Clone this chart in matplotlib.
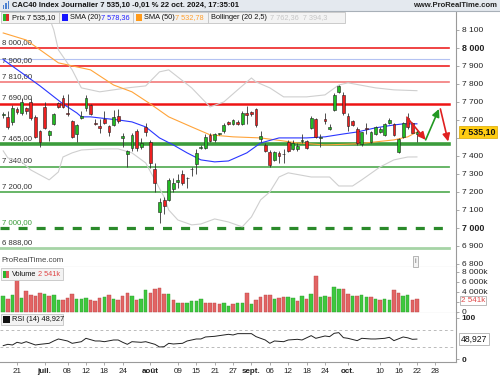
import matplotlib
matplotlib.use('Agg')
import matplotlib.pyplot as plt
import numpy as np
import pandas as pd
from matplotlib.patches import Rectangle
from matplotlib.lines import Line2D

plt.rcParams['font.family'] = ['Liberation Sans', 'DejaVu Sans']
plt.rcParams['lines.scale_dashes'] = False

# ---------------- data ----------------
dates = pd.bdate_range('2024-06-18', '2024-10-22')

opens = [7625, 7617, 7589, 7661, 7639, 7667, 7700, 7617, 7539, 7672,
         7517, 7578, 7694, 7722, 7639, 7594, 7522, 7611, 7667, 7683,
         7583, 7567, 7605, 7567, 7572, 7622, 7500, 7411, 7444, 7539,
         7450, 7561, 7478, 7328, 7089, 7156, 7156, 7217, 7256, 7300,
         7280, 7330, 7356, 7444, 7444, 7517, 7489, 7522, 7539, 7589,
         7578, 7589, 7578, 7639, 7644, 7661, 7494, 7461, 7422, 7378,
         7417, 7411, 7478, 7439, 7439, 7483, 7483, 7556, 7606, 7500,
         7606, 7550, 7656, 7756, 7739, 7622, 7594, 7550, 7467, 7556,
         7478, 7522, 7533, 7517, 7583, 7578, 7422, 7506, 7611, 7583,
         7520]
highs = [7645, 7650, 7683, 7672, 7722, 7672, 7722, 7628, 7545, 7700,
         7545, 7640, 7700, 7740, 7744, 7600, 7578, 7650, 7739, 7690,
         7605, 7605, 7650, 7570, 7656, 7660, 7528, 7435, 7528, 7550,
         7500, 7583, 7490, 7361, 7167, 7170, 7275, 7280, 7300, 7320,
         7283, 7339, 7440, 7460, 7520, 7528, 7528, 7530, 7583, 7595,
         7605, 7600, 7650, 7680, 7650, 7665, 7540, 7470, 7433, 7430,
         7425, 7440, 7490, 7490, 7470, 7520, 7490, 7620, 7610, 7520,
         7640, 7580, 7750, 7795, 7756, 7640, 7600, 7560, 7533, 7585,
         7540, 7565, 7560, 7583, 7610, 7583, 7500, 7590, 7640, 7590,
         7545]
lows = [7610, 7550, 7572, 7633, 7628, 7633, 7600, 7500, 7450, 7550,
        7483, 7570, 7665, 7665, 7622, 7500, 7478, 7605, 7650, 7628,
        7570, 7530, 7578, 7510, 7565, 7583, 7450, 7339, 7430, 7428,
        7440, 7511, 7333, 7200, 7028, 7080, 7150, 7200, 7222, 7240,
        7222, 7289, 7300, 7440, 7440, 7478, 7480, 7515, 7530, 7570,
        7572, 7570, 7572, 7578, 7620, 7560, 7480, 7420, 7339, 7370,
        7360, 7360, 7420, 7435, 7430, 7470, 7440, 7550, 7500, 7450,
        7580, 7545, 7650, 7750, 7630, 7540, 7565, 7460, 7455, 7520,
        7470, 7515, 7525, 7510, 7578, 7510, 7415, 7500, 7550, 7525,
        7480]
closes = [7633, 7561, 7667, 7644, 7700, 7650, 7611, 7506, 7478, 7556,
          7539, 7633, 7672, 7672, 7633, 7506, 7572, 7622, 7722, 7633,
          7578, 7556, 7583, 7533, 7617, 7594, 7511, 7428, 7517, 7444,
          7472, 7533, 7361, 7250, 7144, 7122, 7267, 7250, 7267, 7250,
          7275, 7325, 7417, 7450, 7506, 7483, 7522, 7525, 7572, 7578,
          7600, 7578, 7639, 7628, 7633, 7572, 7511, 7428, 7350, 7422,
          7400, 7408, 7428, 7472, 7456, 7486, 7444, 7611, 7506, 7503,
          7594, 7561, 7739, 7789, 7639, 7567, 7572, 7472, 7533, 7550,
          7533, 7561, 7550, 7578, 7600, 7517, 7494, 7583, 7561, 7528,
          7535.10]

# volume in millions, direction G/R
volumes = [3.3, 2.7, 3.4, 6.6, 2.9, 4.2, 3.5, 3.2, 3.9, 3.7,
           3.2, 3.4, 2.4, 2.4, 2.9, 3.6, 2.6, 2.7, 2.8, 2.4,
           2.2, 2.8, 3.1, 3.5, 2.6, 2.5, 3.2, 3.9, 3.3, 2.4,
           2.6, 4.4, 3.9, 4.6, 4.9, 3.6, 3.6, 2.4, 1.9, 1.9,
           1.9, 2.2, 2.3, 2.6, 1.9, 1.9, 1.9, 1.6, 1.9, 1.2,
           1.7, 1.9, 1.9, 3.9, 1.6, 2.4, 3.0, 3.4, 3.4, 2.6,
           2.9, 3.0, 3.0, 2.8, 2.2, 3.2, 2.7, 3.6, 7.3, 3.0,
           3.3, 3.0, 5.0, 4.7, 4.7, 3.7, 3.2, 3.2, 3.5, 3.0,
           3.0, 2.6, 2.4, 2.6, 2.4, 4.5, 3.9, 3.3, 3.4, 2.4,
           2.541]
vol_dir = ("GRGRGRRRRGRGGRRRGGGRRRGRGRRRGRGGRRRRGRGRGGGGRRRRGGRGGR"
           "GRRRRGRRGGRGRGRGGRGGRRGRGGRGRGGRRGGRR")

sma20_idx = [0, 4, 8, 13, 16, 17, 19, 21, 25, 28, 31, 34, 37, 40, 43, 46, 49,
             53, 56, 60, 66, 70, 74, 77, 81, 85, 87, 90]
sma20_val = [7935, 7862, 7789, 7689, 7639, 7617, 7617, 7611, 7600, 7589, 7561,
             7500, 7461, 7417, 7378, 7367, 7372, 7417, 7472, 7500, 7500, 7506,
             7522, 7533, 7556, 7572, 7578, 7578.36]

sma50_idx = [0, 5, 12, 19, 24, 28, 32, 36, 41, 45, 50, 56, 61, 64, 70, 77, 81,
             85, 88, 90]
sma50_val = [8083, 8044, 7917, 7878, 7794, 7756, 7689, 7617, 7561, 7517, 7506,
             7500, 7483, 7472, 7461, 7467, 7478, 7489, 7506, 7532.78]

bb_up_idx = [9, 11, 12, 15, 17, 21, 27, 31, 34, 36, 41, 45, 48, 51, 54, 55,
             58, 61, 66, 70, 73, 75, 81, 85, 90]
bb_up_val = [8240, 8100, 7989, 7878, 7778, 7756, 7778, 7789, 7867, 7878, 7778,
             7672, 7700, 7767, 7833, 7811, 7778, 7728, 7728, 7739, 7794, 7806,
             7778, 7767, 7762.36]
bb_lo_idx = [0, 1, 4, 6, 10, 12, 13, 15, 17, 21, 25, 28, 31, 33, 35, 36, 38,
             41, 43, 46, 49, 52, 54, 56, 58, 60, 62, 67, 71, 73, 76, 78, 82,
             85, 88, 90]
bb_lo_val = [7428, 7389, 7367, 7322, 7267, 7311, 7394, 7417, 7433, 7439, 7439,
             7417, 7361, 7267, 7172, 7100, 7044, 7017, 7022, 7050, 7033, 7006,
             7061, 7156, 7200, 7283, 7306, 7283, 7283, 7233, 7233, 7267, 7339,
             7378, 7394, 7394.35]

rsi_idx = [0, 1, 2, 3, 4, 5, 6, 7, 8, 10, 11, 12, 14, 15, 17, 18, 20, 21, 22,
           24, 25, 26, 27, 28, 30, 31, 33, 34, 35, 36, 37, 39, 40, 42, 43, 44,
           46, 47, 49, 50, 51, 53, 54, 55, 57, 58, 59, 61, 62, 64, 65, 67, 68,
           70, 71, 72, 73, 74, 75, 77, 78, 80, 81, 83, 84, 85, 87, 88, 89, 90]
rsi_val = [33.2, 36.4, 34.8, 41.2, 38.8, 42.7, 38.8, 34.8, 36.4, 38.8,
           44.4, 49.2, 44.4, 38.8, 42.7, 50.8, 44.4, 44.4, 42.7, 46.8,
           46.8, 41.2, 36.4, 42.7, 41.2, 42.7, 36.4, 30.0, 30.8, 38.8,
           37.2, 38.8, 44.4, 49.2, 49.2, 54.0, 55.6, 57.2, 60.4, 58.8,
           62.0, 62.0, 62.0, 54.8, 46.8, 38.8, 44.4, 42.7, 46.8, 48.4,
           46.8, 57.2, 50.8, 56.4, 54.8, 62.8, 64.4, 52.4, 50.8, 45.2,
           50.8, 49.2, 49.2, 50.8, 53.2, 45.2, 54.0, 52.0, 48.4, 48.927]

level_vals = [8000, 7937, 7900, 7810, 7690, 7465, 7340, 7200, 7000, 6888]
level_labels = ['8 000,00', '', '7 900,00', '7 810,00', '7 690,00', '7 465,00',
                '7 340,00', '7 200,00', '7 000,00', '6 888,00']

# hand-drawn scenario arrows (index, price)
arrow1 = [(87.8, 7615), (91.9, 7489)]
arrow2 = [(91.9, 7489), (94.8, 7661)]
arrow3 = [(95.1, 7661), (96.8, 7480)]

tick_idx = [3, 9, 14, 18, 22, 26, 32, 38, 42, 46, 50, 54, 58, 62, 66, 70, 75,
            82, 86, 90, 94]
tick_lab = ['21', 'juil.', '08', '12', '18', '24', 'août', '09', '15', '21',
            '27', 'sept.', '06', '12', '18', '24', 'oct.', '10', '16', '22', '28']
months = {'juil.', 'août', 'sept.', 'oct.'}

# ---------------- layout ----------------
W, H = 500, 375
def fx(x): return x / W
def fy(y): return 1 - y / H

fig = plt.figure(figsize=(5, 3.75), dpi=100)
fig.patch.set_facecolor('white')
AXR = 456
ax_p = fig.add_axes([0, fy(267), fx(AXR), (267 - 11) / H])
ax_v = fig.add_axes([0, fy(313), fx(AXR), (313 - 267) / H], sharex=ax_p)
ax_r = fig.add_axes([0, fy(362), fx(AXR), (362 - 313) / H], sharex=ax_p)

n = len(closes)
x = np.arange(n)
o = np.array(opens, float); c = np.array(closes, float)
h = np.array(highs, float); l = np.array(lows, float)

for ax in (ax_p, ax_v, ax_r):
    ax.set_facecolor('white')
    ax.spines['left'].set_visible(False)
    ax.spines['top'].set_visible(False)
    ax.spines['right'].set_color('#9a9a9a')
    ax.spines['right'].set_linewidth(0.8)
    ax.spines['bottom'].set_color('#b0b0b0')
    ax.spines['bottom'].set_linewidth(0.8)
    ax.yaxis.tick_right()
    ax.tick_params(axis='y', which='both', direction='out', length=2.5,
                   width=0.5, color='#888888', labelsize=6, pad=1.5,
                   labelcolor='#222222')
ax_p.set_xlim(-0.7, 98.5)

# ---- price panel ----
ax_p.set_ylim(6783, 8205)
lv_style = {
    8000: dict(color='#ee2424', lw=1.2),
    7937: dict(color='#b4c2f2', lw=0.8),
    7900: dict(color='#ee2424', lw=1.2),
    7810: dict(color='#f27a7a', lw=1.2),
    7690: dict(color='#ee1414', lw=1.8),
    7465: dict(color='#3c9c3c', lw=2.6),
    7340: dict(color='#5cb05c', lw=1.3),
    7200: dict(color='#5cb05c', lw=1.3),
    7000: dict(color='#2a8a2a', lw=2.3, dashes=(6.5, 6.5)),
    6888: dict(color='#a6d4a6', lw=2.0),
}
for v, lab in zip(level_vals, level_labels):
    st = lv_style[v]
    ln = Line2D([0, 0.985], [v, v], transform=ax_p.get_yaxis_transform(),
                color=st['color'], lw=st['lw'], zorder=2)
    if 'dashes' in st:
        ln.set_dashes(st['dashes'])
    ax_p.add_line(ln)
    if lab:
        ax_p.annotate(lab, (0, v), xycoords=('axes fraction', 'data'),
                      xytext=(1.5, 1.6), textcoords='offset points',
                      fontsize=5.6, va='bottom', ha='left',
                      color=('#3c9c3c' if v == 7000 else '#333333'), zorder=3)

ax_p.plot(bb_up_idx, bb_up_val, color='#cfcfcf', lw=0.8, zorder=3)
ax_p.plot(bb_lo_idx, bb_lo_val, color='#cfcfcf', lw=0.8, zorder=3)
ax_p.plot(sma50_idx, sma50_val, color='#ffa43a', lw=0.8, zorder=3)
ax_p.plot(sma20_idx, sma20_val, color='#2a36ff', lw=0.8, zorder=3)

up = c >= o
ax_p.vlines(x, l, h, color='#333333', lw=0.6, zorder=4)
ax_p.bar(x, np.maximum(np.abs(c - o), 3), 0.62, bottom=np.minimum(o, c),
         color=np.where(up, '#22bb22', '#ee2020'), edgecolor='#222222',
         lw=0.4, zorder=5)

for (a, b), col in ((arrow1, '#e02020'), (arrow2, '#229922'), (arrow3, '#e02020')):
    ax_p.annotate('', xy=b, xytext=a, zorder=6,
                  arrowprops=dict(arrowstyle='-|>,head_length=0.45,head_width=0.22',
                                  color=col, lw=1.2, shrinkA=0, shrinkB=0))

pt = list(range(6800, 8101, 100))
ax_p.set_yticks(pt)
ax_p.set_yticklabels([f'{v // 1000} {v % 1000:03d}' for v in pt])
for t, v in zip(ax_p.get_yticklabels(), pt):
    if v in (8000, 7000):
        t.set_fontweight('bold')
        t.set_fontsize(6.4)
    if v == 7500:
        t.set_visible(False)
ax_p.tick_params(axis='x', bottom=False, labelbottom=False)
ax_p.annotate(f'{closes[-1]:,.2f}'.replace(',', ' ').replace('.', ','),
              (1, closes[-1]), xycoords=('axes fraction', 'data'),
              xytext=(3.5, 0), textcoords='offset points', va='center',
              ha='left', fontsize=6.4, fontweight='bold', color='#111111',
              annotation_clip=False, zorder=10,
              bbox=dict(boxstyle='square,pad=0.18', fc='#ffcc11', ec='#d9a800',
                        lw=0.5))

# ---- volume panel ----
ax_v.set_ylim(-0.2, 9.0)
vcol = ['#3ec83e' if d == 'G' else '#e26464' for d in vol_dir]
vedge = ['#2c9a2c' if d == 'G' else '#b84444' for d in vol_dir]
ax_v.bar(x, volumes, 0.75, color=vcol, edgecolor=vedge, lw=0.3, zorder=3)
ax_v.set_yticks([0, 2, 4, 6, 8])
ax_v.set_yticklabels(['0', '', '4 000k', '6 000k', '8 000k'])
ax_v.tick_params(axis='x', bottom=False, labelbottom=False)
ax_v.annotate('2 541k', (1, volumes[-1]), xycoords=('axes fraction', 'data'),
              xytext=(3.5, -0.8), textcoords='offset points', va='center',
              ha='left', fontsize=5.8, color='#e04848', annotation_clip=False,
              zorder=10,
              bbox=dict(boxstyle='square,pad=0.1', fc='white', ec='#a0a0a0',
                        lw=0.5))

# ---- RSI panel ----
ax_r.set_ylim(-6, 111.5)
for lvl in (70, 30):
    ax_r.axhline(lvl, color='#b0b0b0', lw=0.6, dashes=(2, 2), zorder=2)
ax_r.plot(rsi_idx, rsi_val, color='#222222', lw=0.7, zorder=3)
ax_r.set_yticks([0, 100])
ax_r.set_yticklabels(['0', '100'], fontweight='bold')
ax_r.annotate('48,927', (1, rsi_val[-1]), xycoords=('axes fraction', 'data'),
              xytext=(3.5, 0), textcoords='offset points', va='center',
              ha='left', fontsize=6.2, color='#111111', annotation_clip=False,
              zorder=10,
              bbox=dict(boxstyle='square,pad=0.18', fc='white', ec='#a0a0a0',
                        lw=0.5))
ax_r.set_xticks(tick_idx)
ax_r.set_xticklabels(tick_lab)
ax_r.tick_params(axis='x', direction='out', length=2, width=0.5,
                 color='#888888', labelsize=5.8, pad=2, labelcolor='#222222')
for t in ax_r.get_xticklabels():
    if t.get_text() in months:
        t.set_fontweight('bold')
ax_r.spines['bottom'].set_color('#9a9a9a')

# ---------------- header & legends ----------------
fig.patches.append(Rectangle((0, fy(11)), 1, 11 / H, transform=fig.transFigure,
                             fc='#e4e9ef', ec='none', zorder=0))
fig.lines.append(Line2D([0, 1], [fy(11), fy(11)], transform=fig.transFigure,
                        color='#a8b0b8', lw=0.8))
for bx, bh in ((3.0, 4), (5.3, 6), (7.6, 8)):
    fig.patches.append(Rectangle((fx(bx), fy(9)), fx(1.4), bh / H,
                                 transform=fig.transFigure, fc='#4a7fd0',
                                 ec='none'))
fig.text(fx(12), fy(5.8), 'CAC40 Index Journalier 7 535,10 -0,01 % 22 oct. 2024, 17:35:01',
         fontsize=5.5, fontweight='bold', va='center', ha='left', color='#111111')
fig.text(fx(497), fy(5.8), 'www.ProRealTime.com', fontsize=5.5,
         fontweight='bold', va='center', ha='right', color='#222222')

def box(x0, y0, x1, y1):
    fig.patches.append(Rectangle((fx(x0), fy(y1)), fx(x1 - x0), (y1 - y0) / H,
                                 transform=fig.transFigure, fc='#f3f3f3',
                                 ec='#c4c4c4', lw=0.6, zorder=5))

def sq(x0, y0, x1, y1, col):
    fig.patches.append(Rectangle((fx(x0), fy(y1)), fx(x1 - x0), (y1 - y0) / H,
                                 transform=fig.transFigure, fc=col, ec='none',
                                 zorder=6))

def txt(xp, yp, s, col='#111111', size=5.3, **kw):
    fig.text(fx(xp), fy(yp), s, fontsize=size, va='center', ha='left',
             color=col, zorder=7, **kw)

# price legend row
box(1, 12, 59, 22.5); box(59, 12, 133, 22.5); box(133, 12, 208, 22.5)
box(208, 12, 345, 22.5)
sq(3, 14, 6, 20.5, '#2bb52b'); sq(6, 14, 9, 20.5, '#dd2a2a')
txt(11.5, 17.3, 'Prix 7 535,10')
sq(62, 14, 68, 20.5, '#1414ff')
txt(70.5, 17.3, 'SMA (20)'); txt(101, 17.3, '7 578,36', '#2020ff')
sq(136, 14, 142, 20.5, '#ff9a1a')
txt(144.5, 17.3, 'SMA (50)'); txt(175, 17.3, '7 532,78', '#ffa030')
txt(211, 17.3, 'Bollinger (20 2,5)'); txt(270, 17.3, '7 762,36  7 394,3', '#c6c6c6')

# volume legend
box(1, 268, 63, 280)
sq(3, 270.5, 6, 277.5, '#2bb52b'); sq(6, 270.5, 9, 277.5, '#dd5a5a')
txt(12, 274.3, 'Volume'); txt(38, 274.3, '2 541k', '#e04848')

# RSI legend
box(1, 313.5, 63, 325)
sq(3, 316, 9.5, 322.5, '#111111')
txt(12, 319.3, 'RSI (14) 48,927')

fig.text(fx(1), fy(261), 'ProRealTime.com', fontsize=5.6, va='center',
         ha='left', color='#444444')
fig.text(fx(415.5), fy(261.5), 'i', fontsize=5, va='center', ha='center',
         color='#666666',
         bbox=dict(boxstyle='square,pad=0.25', fc='#f4f4f4', ec='#9a9a9a', lw=0.5))

fig.savefig('out.png', dpi=100)
